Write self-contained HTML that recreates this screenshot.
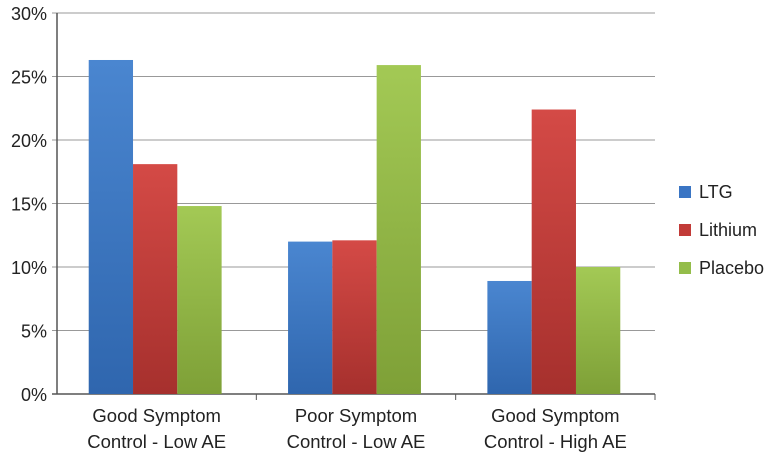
<!DOCTYPE html>
<html><head><meta charset="utf-8"><style>
body{margin:0;background:#fff;}
svg text{font-family:"Liberation Sans",sans-serif;fill:#222;}
</style></head><body>
<svg id="chart" width="783" height="463">
<defs>
<linearGradient id="gLTG" x1="0" y1="0" x2="0" y2="1"><stop offset="0" stop-color="#4a86d0"/><stop offset="1" stop-color="#2f66ae"/></linearGradient>
<linearGradient id="gLi" x1="0" y1="0" x2="0" y2="1"><stop offset="0" stop-color="#d44a46"/><stop offset="1" stop-color="#a6302d"/></linearGradient>
<linearGradient id="gPl" x1="0" y1="0" x2="0" y2="1"><stop offset="0" stop-color="#a3c955"/><stop offset="1" stop-color="#7ea037"/></linearGradient>
</defs>
<g id="grid"></g><g id="bars"></g><g id="axes"></g><g id="legend"></g>
</svg>
<script>
const categories=[["Good Symptom","Control - Low AE"],["Poor Symptom","Control - Low AE"],["Good Symptom","Control - High AE"]];
const seriesNames=["LTG","Lithium","Placebo"];
const ltg=[26.3,12.0,8.9];
const lithium=[18.1,12.1,22.4];
const placebo=[14.8,25.9,10.0];
const yTicks=[0,5,10,15,20,25,30];
const fills=["url(#gLTG)","url(#gLi)","url(#gPl)"];
const legendColors=["#3a75c4","#c23b38","#94bd4a"];
const NS="http://www.w3.org/2000/svg";
const X0=57,X1=655,Y0=394,Y1=13,YMAX=30;
const y=v=>Y0-(v/YMAX)*(Y0-Y1);
const bw=(X1-X0)/categories.length;
const xc=i=>X0+bw*i;
function mk(t,a,p){const e=document.createElementNS(NS,t);for(const k in a)e.setAttribute(k,a[k]);p.appendChild(e);return e;}
const grid=document.getElementById('grid'),bars=document.getElementById('bars'),axes=document.getElementById('axes'),leg=document.getElementById('legend');
yTicks.forEach(t=>{
 const l=mk('line',{x1:X0-5,x2:X1,y1:y(t),y2:y(t),stroke:t===0?'#555':'#999','stroke-width':t===0?1.5:1},grid);
 
 
 const tx=mk('text',{x:X0-10,y:y(t)+7,'text-anchor':'end','font-size':18},axes);
 tx.textContent=t+'%';
 
 
});
mk('line',{x1:X0,x2:X0,y1:Y1,y2:Y0,stroke:'#555','stroke-width':1.5},axes);
const series=[ltg,lithium,placebo];
categories.forEach((c,i)=>{
 const tk=mk('line',{x1:xc(i+1),x2:xc(i+1),y1:Y0,y2:Y0+6,stroke:'#555'},axes);
 
 
 const w=44.3,start=xc(i)+bw/2-1.5*w-1.5;
 series.forEach((s,j)=>{
  const r=mk('rect',{x:start+j*w,y:y(s[i]),width:w,height:Y0-y(s[i]),fill:fills[j]},bars);
  
  
 });
 c.forEach((ln,k)=>{
  const t=mk('text',{x:xc(i)+bw/2,y:422+k*26,'text-anchor':'middle','font-size':18.5},axes);
  t.textContent=ln;
  
  
 });
});
seriesNames.forEach((n,j)=>{
 const yy=193+j*38;
 const r=mk('rect',{x:679,y:yy-7,width:12,height:12,fill:legendColors[j]},leg);
 
 
 const t=mk('text',{x:699,y:yy+5,'font-size':18},leg);
 t.textContent=n;
 
 
});
</script>
</body></html>
